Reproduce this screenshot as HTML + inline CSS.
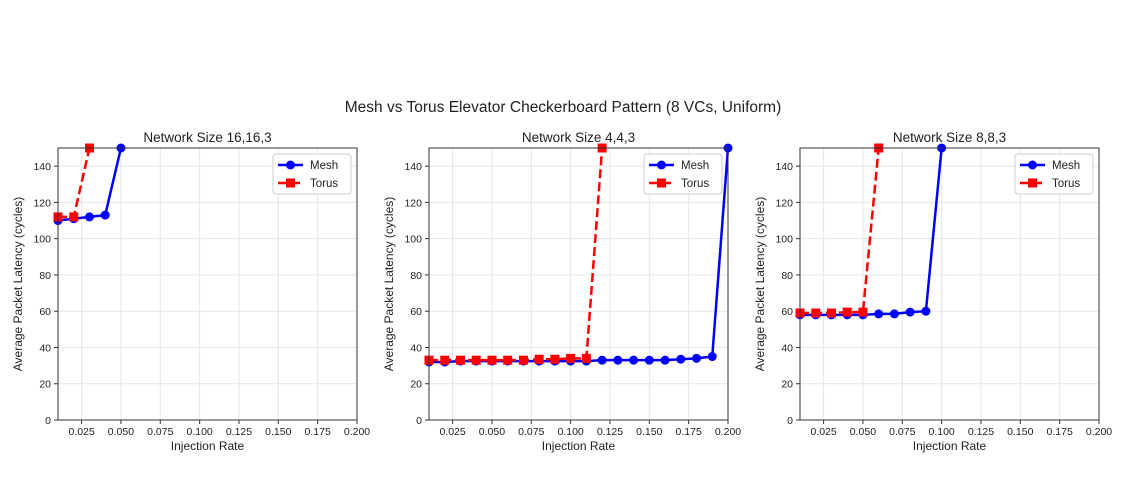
<!DOCTYPE html>
<html><head><meta charset="utf-8"><style>
body{margin:0;background:#fff;}
svg text{font-family:"Liberation Sans","DejaVu Sans",sans-serif;fill:#222;}
</style></head><body>
<svg id="fig" width="1132" height="478" xmlns="http://www.w3.org/2000/svg">
<text x="563" y="112" font-size="15.5" text-anchor="middle">Mesh vs Torus Elevator Checkerboard Pattern (8 VCs, Uniform)</text>
</svg>
<script>
const panelTitles = ["Network Size 16,16,3", "Network Size 4,4,3", "Network Size 8,8,3"];
const xTicks = [0.025, 0.05, 0.075, 0.1, 0.125, 0.15, 0.175, 0.2];
const xTickLabels = ["0.025","0.050","0.075","0.100","0.125","0.150","0.175","0.200"];
const yTicks = [0, 20, 40, 60, 80, 100, 120, 140];
const meshX1 = [0.01, 0.02, 0.03, 0.04, 0.05];
const meshY1 = [110, 111, 112, 113, 150];
const torusX1 = [0.01, 0.02, 0.03];
const torusY1 = [112, 112, 150];
const meshX2 = [0.01,0.02,0.03,0.04,0.05,0.06,0.07,0.08,0.09,0.10,0.11,0.12,0.13,0.14,0.15,0.16,0.17,0.18,0.19,0.20];
const meshY2 = [32,32,32.5,32.5,32.5,32.5,32.5,32.5,32.5,32.5,32.5,33,33,33,33,33,33.5,34,35,150];
const torusX2 = [0.01,0.02,0.03,0.04,0.05,0.06,0.07,0.08,0.09,0.10,0.11,0.12];
const torusY2 = [33,33,33,33,33,33,33,33.5,33.5,34,34,150];
const meshX3 = [0.01,0.02,0.03,0.04,0.05,0.06,0.07,0.08,0.09,0.10];
const meshY3 = [58,58,58,58,58,58.5,58.5,59.5,60,150];
const torusX3 = [0.01,0.02,0.03,0.04,0.05,0.06];
const torusY3 = [59,59,59,59.5,59.5,150];
const meshXs=[meshX1,meshX2,meshX3], meshYs=[meshY1,meshY2,meshY3];
const torusXs=[torusX1,torusX2,torusX3], torusYs=[torusY1,torusY2,torusY3];

const NS="http://www.w3.org/2000/svg";
const svg=document.getElementById('fig');
function mk(tag,attrs,parent){const e=document.createElementNS(NS,tag);for(const k in attrs)e.setAttribute(k,attrs[k]);(parent||svg).appendChild(e);return e;}
const lefts=[58,429,800], W=299, plotTop=148, plotBottom=420, xmin=0.01,xmax=0.2,ymin=0,ymax=150;
for(let p=0;p<3;p++){
  const L=lefts[p];
  const sx=v=>L+(v-xmin)/(xmax-xmin)*W;
  const sy=v=>plotBottom-(v-ymin)/(ymax-ymin)*(plotBottom-plotTop);
  const g=mk('g',{});
  
  
  const clipId='c'+p;
  const cp=mk('clipPath',{id:clipId},g);
  mk('rect',{x:L-6,y:plotTop-6,width:W+12,height:plotBottom-plotTop+12},cp);
  mk('rect',{x:L,y:plotTop,width:W,height:plotBottom-plotTop,fill:'#fff'},g);
  xTicks.forEach((t,i)=>{
    mk('line',{x1:sx(t),x2:sx(t),y1:plotTop,y2:plotBottom,stroke:'#e6e6e6','stroke-width':1},g);
    mk('line',{x1:sx(t),x2:sx(t),y1:plotBottom,y2:plotBottom+4,stroke:'#333'},g);
    const tx=mk('text',{x:sx(t),y:plotBottom+15,'font-size':10.5,'text-anchor':'middle'},g);
    
    
    tx.textContent=xTickLabels[i];
  });
  yTicks.forEach(t=>{
    mk('line',{x1:L,x2:L+W,y1:sy(t),y2:sy(t),stroke:'#e6e6e6','stroke-width':1},g);
    mk('line',{x1:L-4,x2:L,y1:sy(t),y2:sy(t),stroke:'#333'},g);
    const tx=mk('text',{x:L-7,y:sy(t)+4,'font-size':10.5,'text-anchor':'end'},g);
    
    
    tx.textContent=t;
  });
  const ttl=mk('text',{x:L+W/2,y:plotTop-6,'font-size':13.5,'text-anchor':'middle'},g);
  
  
  ttl.textContent=panelTitles[p];
  const xl=mk('text',{x:L+W/2,y:plotBottom+30,'font-size':12,'text-anchor':'middle'},g);
  
  
  xl.textContent='Injection Rate';
  const yl=mk('text',{x:0,y:0,'font-size':12,'text-anchor':'middle',transform:`translate(${L-36},${(plotTop+plotBottom)/2}) rotate(-90)`},g);
  
  
  yl.textContent='Average Packet Latency (cycles)';
  const dg=mk('g',{'clip-path':`url(#${clipId})`},g);
  const mpts=meshXs[p].map((x,i)=>sx(x)+','+sy(meshYs[p][i])).join(' ');
  const ml=mk('polyline',{points:mpts,fill:'none',stroke:'#0000ff','stroke-width':2.5},dg);
  
  
  meshXs[p].forEach((x,i)=>{
    const c=mk('circle',{cx:sx(x),cy:sy(meshYs[p][i]),r:4.5,fill:'#0000ff'},dg);
    
    
  });
  const tpts=torusXs[p].map((x,i)=>sx(x)+','+sy(torusYs[p][i])).join(' ');
  const tl=mk('polyline',{points:tpts,fill:'none',stroke:'#ff0000','stroke-width':2.5,'stroke-dasharray':'9,4'},dg);
  
  
  torusXs[p].forEach((x,i)=>{
    const r=mk('rect',{x:sx(x)-4.5,y:sy(torusYs[p][i])-4.5,width:9,height:9,fill:'#ff0000'},dg);
    
    
  });
  mk('rect',{x:L,y:plotTop,width:W,height:plotBottom-plotTop,fill:'none',stroke:'#333','stroke-width':1},g);
  const lg=mk('g',{},g);
  
  
  const lx=L+W-84, ly=plotTop+6;
  mk('rect',{x:lx,y:ly,width:78,height:40,fill:'#fff',stroke:'#ccc',rx:3},lg);
  mk('line',{x1:lx+5,x2:lx+30,y1:ly+11,y2:ly+11,stroke:'#0000ff','stroke-width':2.5},lg);
  mk('circle',{cx:lx+17.5,cy:ly+11,r:4.5,fill:'#0000ff'},lg);
  const t1=mk('text',{x:lx+37,y:ly+15,'font-size':11.5},lg);
  
  
  t1.textContent='Mesh';
  mk('line',{x1:lx+5,x2:lx+30,y1:ly+29,y2:ly+29,stroke:'#ff0000','stroke-width':2.5,'stroke-dasharray':'9,4'},lg);
  mk('rect',{x:lx+13,y:ly+24.5,width:9,height:9,fill:'#ff0000'},lg);
  const t2=mk('text',{x:lx+37,y:ly+33,'font-size':11.5},lg);
  
  
  t2.textContent='Torus';
}
</script>
</body></html>
